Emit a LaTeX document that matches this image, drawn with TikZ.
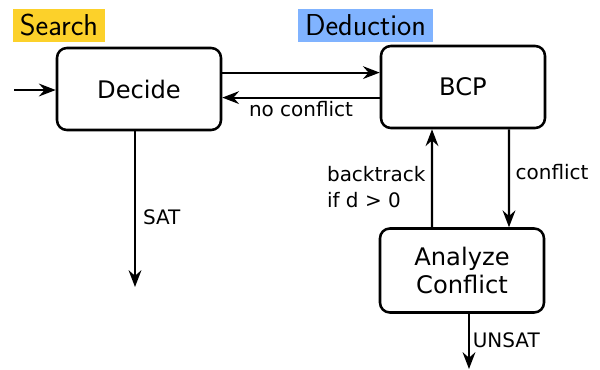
\documentclass[tikz,border=0pt]{standalone}
\usepackage{fontspec}
\setmainfont{DejaVu Sans}
\usepackage{tikz}
\usetikzlibrary{arrows.meta,positioning,calc}
\definecolor{searchyel}{HTML}{FCD12A}
\definecolor{deducblue}{HTML}{80B3FF}
\tikzset{
  statebox/.style={draw=black, line width=1.8pt, fill=white, rounded corners=7pt,
                   minimum width=4.1cm, minimum height=2.05cm, align=center,
                   font=\fontsize{17.2}{20.4}\selectfont},
  tagbox/.style={inner sep=0pt, minimum height=0.825cm,
                 font=\sffamily\fontsize{21.5}{24}\selectfont},
  lbl/.style={font=\fontsize{14.2}{17}\selectfont, inner sep=2pt},
  arr/.style={-{Stealth[length=4.2mm, width=3.2mm, inset=1.4mm]}, line width=1.5pt}}
\begin{document}
\begin{tikzpicture}
    \useasboundingbox (0,0) rectangle (15,-9.225);
    % phase tags
    \node[tagbox, fill=searchyel, minimum width=2.3cm] (search) at (1.475,-0.6375) {Search};
    \node[tagbox, fill=deducblue, minimum width=3.375cm] (deduc) at (9.1375,-0.6375) {Deduction};
    % the three states
    \node[statebox] (decide) at (3.475,-2.225) {Decide};
    \node[statebox] (bcp) at (11.575,-2.175) {BCP};
    \node[statebox, minimum height=2.1cm] (analyze) at (11.55,-6.7625) {Analyze\\Conflict};
    % free ends
    \coordinate (entry) at (0.35,-2.25);
    \coordinate (satend) at (3.375,-7.175);
    \coordinate (unsatend) at (11.725,-9.225);
    % transitions
    \draw[arr] (entry) -- (entry -| decide.west);
    \draw[arr] ([yshift=0.41cm]decide.east) -- ([yshift=0.36cm]bcp.west);
    \draw[arr] ([yshift=-0.265cm]bcp.west) -- ([yshift=-0.215cm]decide.east)
      node[lbl, midway, below] {no conflict};
    \draw[arr] ([xshift=-0.1cm]decide.south) -- (satend)
      node[lbl, pos=0.55, right=3pt] {SAT};
    \draw[arr] ([xshift=1.15cm]bcp.south) -- ([xshift=1.175cm]analyze.north)
      node[lbl, pos=0.44, right=2pt] {conflict};
    \draw[arr] ([xshift=-0.75cm]analyze.north) -- ([xshift=-0.775cm]bcp.south)
      node[lbl, pos=0.41, left=2pt, align=left] {backtrack\\[1pt]if d > 0};
    \draw[arr] ([xshift=0.175cm]analyze.south) -- (unsatend)
      node[lbl, pos=0.48, right=0pt] {UNSAT};
\end{tikzpicture}
\end{document}
